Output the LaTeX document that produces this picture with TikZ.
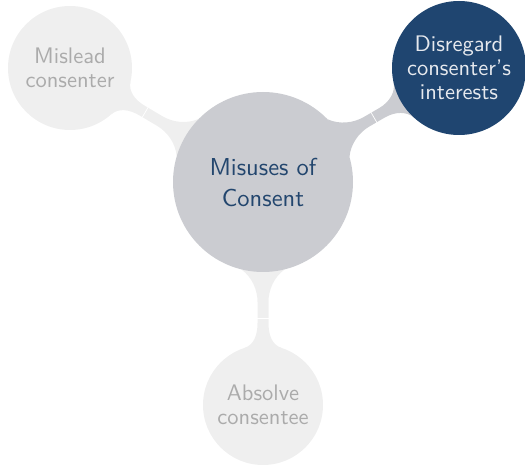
\documentclass[tikz,border=0pt]{standalone}
\usepackage{fontspec}
\setsansfont{lmsans10-regular}[Extension=.otf]
\usetikzlibrary{calc,backgrounds}
\definecolor{hubgray}{HTML}{CBCCD1}
\definecolor{hubtext}{HTML}{23466E}
\definecolor{deepblue}{HTML}{1F4570}
\definecolor{bluetext}{HTML}{E6E9EE}
\definecolor{leafgray}{HTML}{EFEFEF}
\definecolor{leaftext}{HTML}{ABABAB}
\tikzset{
  hub/.style={circle, fill=hubgray, minimum size=180pt, inner sep=0pt, align=center,
    text=hubtext, font=\sffamily\fontsize{24.5}{31}\selectfont},
  leaf/.style={circle, fill=leafgray, minimum size=#1, inner sep=0pt, align=center,
    text=leaftext, font=\sffamily\fontsize{22.5}{24}\selectfont},
  bluenode/.style={circle, fill=deepblue, minimum size=#1, inner sep=0pt, align=center,
    text=bluetext, font=\sffamily\fontsize{22.5}{24}\selectfont},
  seam/.style={white, line width=0.7pt}
}
% #1 parent node, #2 child node, #3 parent radius, #4 child radius, #5 colour, #6 seam fraction
\newcommand\barlink[6]{%
  \path let \p1=($(#2.center)-(#1.center)$), \n1={atan2(\y1,\x1)}, \n2={veclen(\x1,\y1)} in
    \pgfextra{\xdef\linkang{\n1}\xdef\linklen{\n2}};
  \begin{scope}[on background layer, shift={(#1.center)}, rotate=\linkang]
    \pgfmathsetmacro\pa{#3*cos(14)}\pgfmathsetmacro\pb{#3*sin(14)}
    \pgfmathsetmacro\qa{\linklen-#4*cos(18)}\pgfmathsetmacro\qb{#4*sin(18)}
    \pgfmathsetmacro\ea{#3+30}\pgfmathsetmacro\eb{\linklen-#4-22}
    \pgfmathsetmacro\ka{\qa-10*sin(18)}\pgfmathsetmacro\kb{\qb-10*cos(18)}
    \fill[#5] (\pa,\pb) .. controls ({\pa+8},{\pb-11}) and ({#3+18},5.5) .. (\ea,5.5)
      -- (\eb,5.5) .. controls ({\eb+12},5.5) and (\ka,\kb) .. (\qa,\qb)
      -- (\qa,-\qb) .. controls (\ka,-\kb) and ({\eb+12},-5.5) .. (\eb,-5.5)
      -- (\ea,-5.5) .. controls ({#3+18},-5.5) and ({\pa+8},{-\pb+11}) .. (\pa,-\pb) -- cycle;
    \pgfmathsetmacro\wl{#3+#6*(\linklen-#3-#4)}
    \draw[seam] (\wl,-6) -- (\wl,6);
  \end{scope}}
\begin{document}
\begin{tikzpicture}[x=1pt,y=1pt]
  \useasboundingbox (0,0) rectangle (525,469);
  \node[hub] (hub) at (263,287) {Misuses of\\Consent};
  \node[bluenode=134pt] (dis) at (459,401) {Disregard\\consenter's\\interests};
  \node[leaf=124pt] (mis) at (70,401) {Mislead\\consenter};
  \node[leaf=120pt] (abs) at (263,64) {Absolve\\consentee};
  \barlink{hub}{dis}{90}{67}{hubgray}{0.55}
  \barlink{hub}{mis}{90}{62}{leafgray}{0.65}
  \barlink{hub}{abs}{90}{60}{leafgray}{0.64}
\end{tikzpicture}
\end{document}
